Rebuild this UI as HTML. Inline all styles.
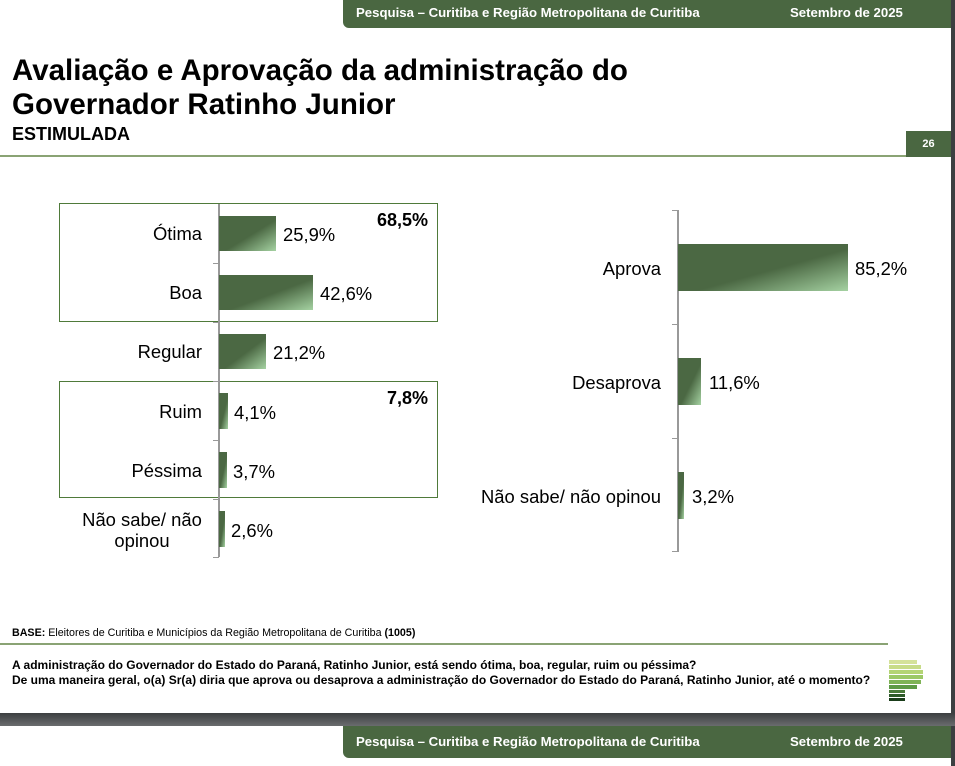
<!DOCTYPE html>
<html><head><meta charset="utf-8"><style>
*{margin:0;padding:0;box-sizing:border-box}
body{width:955px;height:766px;position:relative;background:#fff;font-family:"Liberation Sans",Arial,sans-serif;overflow:hidden;color:#000}
.a{position:absolute}
.hdr{background:#4a6741;color:#fff;font-weight:bold;font-size:13.2px;border-radius:0 0 0 6px}
.bar{position:absolute;background:linear-gradient(to bottom right,#4b6843 0%,#4b6843 55%,#a5d2a2 100%)}
.lab{position:absolute;font-size:18.4px;text-align:right;line-height:21px}
.val{position:absolute;font-size:18.4px;line-height:21px}
</style></head><body>
<div class="a" style="left:951px;top:0;width:4px;height:713px;background:#3c3f41"></div>
<div class="a hdr" style="left:343px;top:0;width:608px;height:28px"><span class="a" style="left:13px;top:5px">Pesquisa – Curitiba e Região Metropolitana de Curitiba</span><span class="a" style="left:447px;top:5px">Setembro de 2025</span></div>
<div class="a" style="left:12px;top:54px;font-size:29.5px;font-weight:bold;line-height:34px">Avaliação e Aprovação da administração do<br>Governador Ratinho Junior</div>
<div class="a" style="left:12px;top:124px;font-size:18px;font-weight:bold">ESTIMULADA</div>
<div class="a" style="left:0;top:155px;width:906px;height:2px;background:#8aa374"></div>
<div class="a" style="left:906px;top:131px;width:45px;height:26px;background:#4a6741;color:#fff;font-weight:bold;font-size:11px;text-align:center;line-height:26px">26</div>

<div class="a" style="left:59px;top:203px;width:379px;height:119px;border:1.5px solid #4f7a3a"></div>
<div class="a" style="left:59px;top:381px;width:379px;height:117px;border:1.5px solid #4f7a3a"></div>
<div class="a" style="left:218px;top:204px;width:1.5px;height:353px;background:#999"></div>
<div class="a" style="left:213px;top:263px;width:6px;height:1px;background:#999"></div>
<div class="a" style="left:213px;top:322px;width:6px;height:1px;background:#999"></div>
<div class="a" style="left:213px;top:381px;width:6px;height:1px;background:#999"></div>
<div class="a" style="left:213px;top:440px;width:6px;height:1px;background:#999"></div>
<div class="a" style="left:213px;top:499px;width:6px;height:1px;background:#999"></div>
<div class="a" style="left:213px;top:557px;width:6px;height:1px;background:#999"></div>

<div class="lab" style="left:60px;width:142px;top:223px">Ótima</div>
<div class="bar" style="left:219px;top:216px;width:57px;height:35px"></div>
<div class="val" style="left:283px;top:224px">25,9%</div>
<div class="lab" style="left:60px;width:142px;top:282px">Boa</div>
<div class="bar" style="left:219px;top:275px;width:94px;height:35px"></div>
<div class="val" style="left:320px;top:283px">42,6%</div>
<div class="lab" style="left:60px;width:142px;top:341px">Regular</div>
<div class="bar" style="left:219px;top:334px;width:47px;height:35px"></div>
<div class="val" style="left:273px;top:342px">21,2%</div>
<div class="lab" style="left:60px;width:142px;top:401px">Ruim</div>
<div class="bar" style="left:219px;top:393px;width:9px;height:36px"></div>
<div class="val" style="left:234px;top:402px">4,1%</div>
<div class="lab" style="left:60px;width:142px;top:460px">Péssima</div>
<div class="bar" style="left:219px;top:452px;width:8px;height:36px"></div>
<div class="val" style="left:233px;top:461px">3,7%</div>
<div class="lab" style="left:72px;width:140px;top:509px;text-align:center">Não sabe/ não<br>opinou</div>
<div class="bar" style="left:219px;top:511px;width:6px;height:36px"></div>
<div class="val" style="left:231px;top:520px">2,6%</div>
<div class="a" style="left:350px;top:210px;width:78px;text-align:right;font-size:18px;font-weight:bold">68,5%</div>
<div class="a" style="left:350px;top:388px;width:78px;text-align:right;font-size:18px;font-weight:bold">7,8%</div>

<div class="a" style="left:677px;top:210px;width:1.5px;height:342px;background:#999"></div>
<div class="a" style="left:672px;top:210px;width:6px;height:1px;background:#999"></div>
<div class="a" style="left:672px;top:324px;width:6px;height:1px;background:#999"></div>
<div class="a" style="left:672px;top:438px;width:6px;height:1px;background:#999"></div>
<div class="a" style="left:672px;top:551px;width:6px;height:1px;background:#999"></div>
<div class="lab" style="left:440px;width:221px;top:258px">Aprova</div>
<div class="bar" style="left:678px;top:244px;width:170px;height:47px"></div>
<div class="val" style="left:855px;top:258px">85,2%</div>
<div class="lab" style="left:440px;width:221px;top:372px">Desaprova</div>
<div class="bar" style="left:678px;top:358px;width:23px;height:47px"></div>
<div class="val" style="left:709px;top:372px">11,6%</div>
<div class="lab" style="left:440px;width:221px;top:486px">Não sabe/ não opinou</div>
<div class="bar" style="left:678px;top:472px;width:6px;height:47px"></div>
<div class="val" style="left:692px;top:486px">3,2%</div>

<div class="a" style="left:12px;top:627px;font-size:10.7px"><b>BASE:</b> Eleitores de Curitiba e Municípios da Região Metropolitana de Curitiba <b>(1005)</b></div>
<div class="a" style="left:0;top:643px;width:888px;height:2px;background:#8aa374"></div>
<div class="a" style="left:12px;top:658px;font-size:12px;font-weight:bold;line-height:15px">A administração do Governador do Estado do Paraná, Ratinho Junior, está sendo ótima, boa, regular, ruim ou péssima?<br>De uma maneira geral, o(a) Sr(a) diria que aprova ou desaprova a administração do Governador do Estado do Paraná, Ratinho Junior, até o momento?</div>
<div class="a" style="left:889px;top:660px;width:28px;height:4px;background:#d5e29a"></div>
<div class="a" style="left:889px;top:665px;width:32px;height:4px;background:#c8dc88"></div>
<div class="a" style="left:889px;top:670px;width:34px;height:4px;background:#b4d474"></div>
<div class="a" style="left:889px;top:675px;width:34px;height:4px;background:#9cc866"></div>
<div class="a" style="left:889px;top:680px;width:32px;height:4px;background:#7fb356"></div>
<div class="a" style="left:889px;top:685px;width:28px;height:4px;background:#5e9a46"></div>
<div class="a" style="left:889px;top:690px;width:16px;height:3px;background:#4a7a3a"></div>
<div class="a" style="left:889px;top:694px;width:16px;height:3px;background:#2d5a28"></div>
<div class="a" style="left:889px;top:698px;width:16px;height:3px;background:#1a3d1a"></div>

<div class="a" style="left:0;top:713px;width:955px;height:13px;background:linear-gradient(#3c3f41,#6a6c6e)"></div>
<div class="a hdr" style="left:343px;top:726px;width:609px;height:32px;border-radius:0 0 0 6px"><span class="a" style="left:13px;top:8px">Pesquisa – Curitiba e Região Metropolitana de Curitiba</span><span class="a" style="left:447px;top:8px">Setembro de 2025</span></div>
<div class="a" style="left:951px;top:726px;width:4px;height:40px;background:#3c3f41"></div>
</body></html>
